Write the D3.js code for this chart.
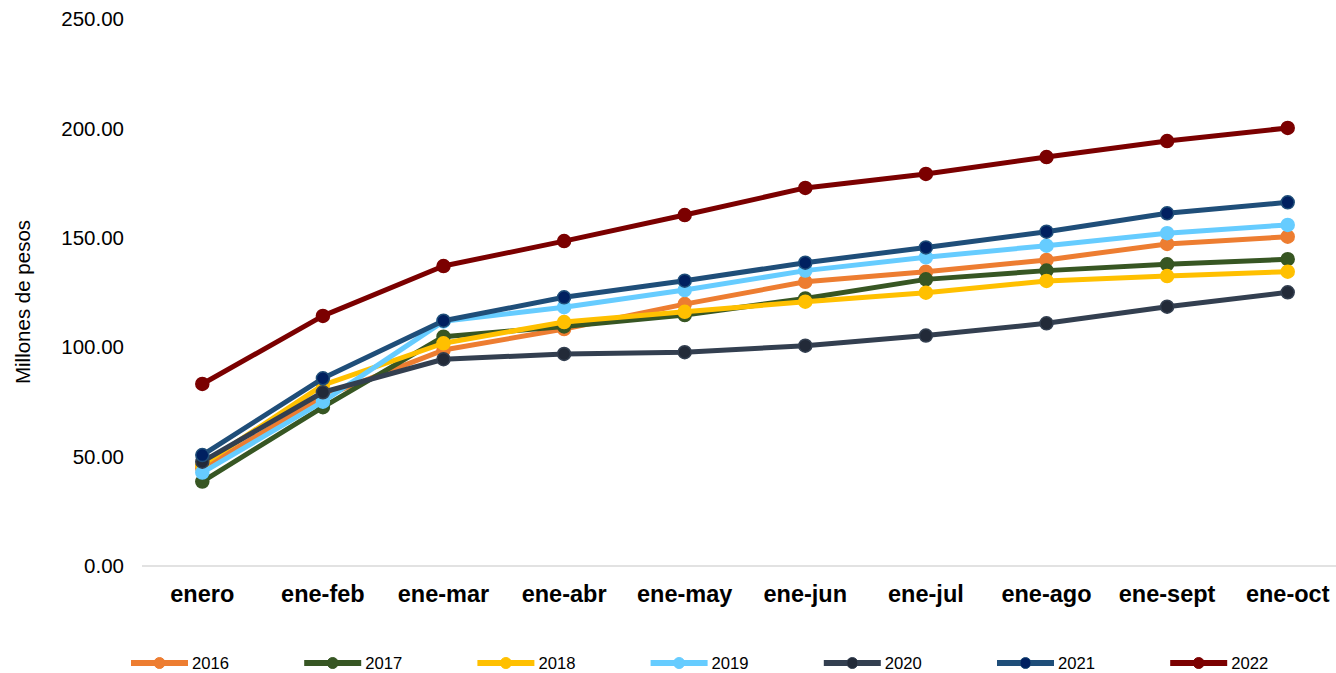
<!DOCTYPE html>
<html>
<head>
<meta charset="utf-8">
<script src="https://cdn.jsdelivr.net/npm/d3@7"></script>
<style>
  html, body { margin: 0; padding: 0; background: #fff; }
  svg { display: block; }
</style>
</head>
<body>
<script>
const categories = ["enero","ene-feb","ene-mar","ene-abr","ene-may","ene-jun","ene-jul","ene-ago","ene-sept","ene-oct"];
const yTicks = [0, 50, 100, 150, 200, 250];

const s2016 = [44.6, 77.4, 98.7, 108.3, 119.7, 129.9, 134.5, 139.9, 147.2, 150.5];
const s2017 = [38.6, 72.6, 104.8, 109.5, 114.7, 122.3, 131.0, 135.0, 137.9, 140.2];
const s2018 = [46.2, 82.7, 101.8, 111.5, 116.2, 120.8, 124.9, 130.3, 132.5, 134.5];
const s2019 = [42.7, 75.1, 111.8, 118.3, 126.1, 135.0, 141.1, 146.4, 152.1, 155.9];
const s2020 = [47.7, 79.4, 94.5, 96.9, 97.7, 100.7, 105.3, 110.9, 118.5, 125.1];
const s2021 = [50.7, 85.8, 112.1, 122.8, 130.4, 138.6, 145.6, 152.8, 161.2, 166.2];
const s2022 = [83.2, 114.3, 137.1, 148.5, 160.4, 172.8, 179.2, 186.9, 194.2, 200.2];

const series = [
  {name: "2016", values: s2016, line: "#ed7d31", marker: "#ed7d31"},
  {name: "2017", values: s2017, line: "#375623", marker: "#375623"},
  {name: "2018", values: s2018, line: "#ffc000", marker: "#ffc000"},
  {name: "2019", values: s2019, line: "#66ccff", marker: "#66ccff"},
  {name: "2020", values: s2020, line: "#333f50", marker: "#222a38"},
  {name: "2021", values: s2021, line: "#1f4e79", marker: "#002060"},
  {name: "2022", values: s2022, line: "#7b0000", marker: "#7b0000"}
];

const W = 1336, H = 673;
const svg = d3.select("body").append("svg").attr("width", W).attr("height", H);

const x = d3.scaleBand().domain(categories).range([142, 1348]);
const y = d3.scaleLinear().domain([0, 250]).range([566, 19]);
const cx = c => x(c) + x.bandwidth() / 2;

// y tick labels
svg.append("g").selectAll("text").data(yTicks).join("text")
  .attr("x", 124).attr("y", d => y(d)).attr("dy", "0.35em")
  .attr("text-anchor", "end")
  .attr("font-family", "Liberation Sans, Arial, sans-serif")
  .attr("font-size", 20.5).attr("fill", "#000")
  .text(d => d3.format(".2f")(d));

// axis line
svg.append("line").attr("x1", 142).attr("x2", 1348)
  .attr("y1", y(0)).attr("y2", y(0))
  .attr("stroke", "#d9d9d9").attr("stroke-width", 1.5);

// x labels
svg.append("g").selectAll("text").data(categories).join("text")
  .attr("x", d => cx(d)).attr("y", 602)
  .attr("text-anchor", "middle")
  .attr("font-family", "Liberation Sans, Arial, sans-serif")
  .attr("font-size", 23.5).attr("font-weight", "bold").attr("fill", "#000")
  .text(d => d);

// y axis title
svg.append("text")
  .attr("transform", "translate(30,302) rotate(-90)")
  .attr("text-anchor", "middle")
  .attr("font-family", "Liberation Sans, Arial, sans-serif")
  .attr("font-size", 20.5).attr("fill", "#000")
  .text("Millones de pesos");

const line = d3.line().x((d, i) => cx(categories[i])).y(d => y(d));

series.forEach(s => {
  const g = svg.append("g");
  g.append("path").attr("d", line(s.values))
    .attr("fill", "none").attr("stroke", s.line)
    .attr("stroke-width", 5).attr("stroke-linejoin", "round");
  g.selectAll("circle").data(s.values).join("circle")
    .attr("cx", (d, i) => cx(categories[i])).attr("cy", d => y(d))
    .attr("r", 6.5).attr("fill", s.marker)
    .attr("stroke", s.line).attr("stroke-width", 1.5);
});

// legend
const lg = svg.append("g");
series.forEach((s, i) => {
  const x0 = 131 + i * 173.2;
  const ly = 663;
  lg.append("line").attr("x1", x0).attr("x2", x0 + 57)
    .attr("y1", ly).attr("y2", ly)
    .attr("stroke", s.line).attr("stroke-width", 6);
  lg.append("circle").attr("cx", x0 + 28.5).attr("cy", ly).attr("r", 5.5)
    .attr("fill", s.marker).attr("stroke", s.line).attr("stroke-width", 1);
  lg.append("text").attr("x", x0 + 61).attr("y", ly).attr("dy", "0.35em")
    .attr("font-family", "Liberation Sans Narrow, Liberation Sans, Arial, sans-serif")
    .attr("font-size", 17).attr("fill", "#000")
    .attr("textLength", 37).attr("lengthAdjust", "spacingAndGlyphs")
    .text(s.name);
});
</script>
</body>
</html>
